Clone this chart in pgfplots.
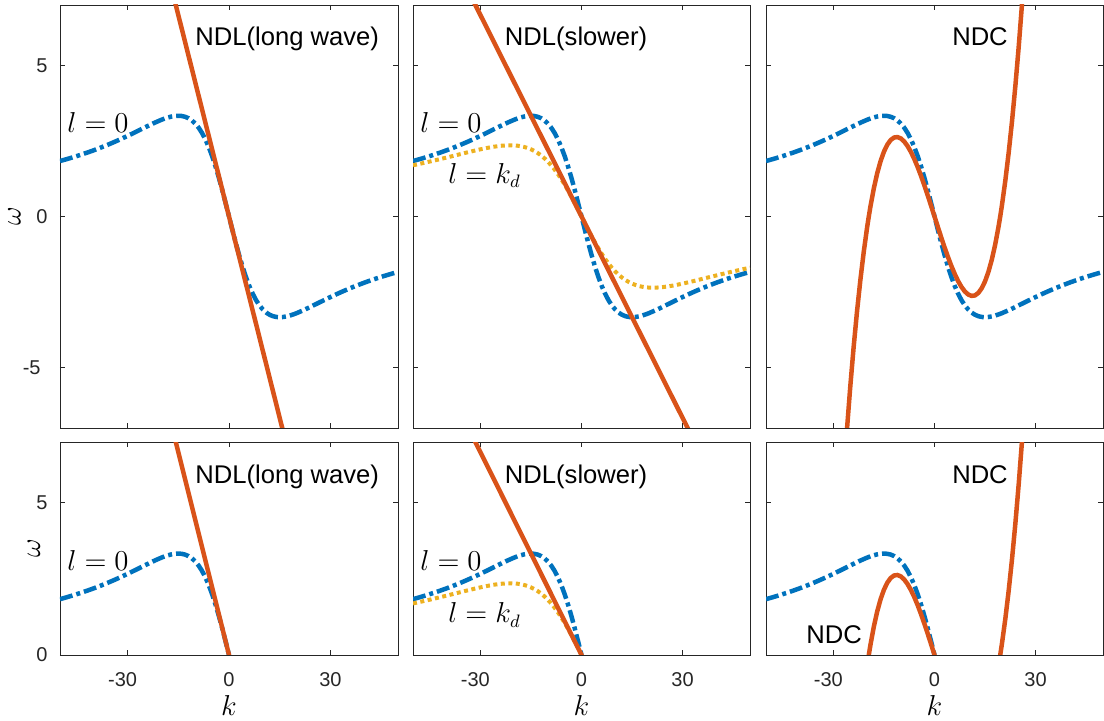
\documentclass[border=0pt]{standalone}
\usepackage[no-math]{fontspec}
\setmainfont{Liberation Sans}
\usepackage{pgfplots}
\usepackage{pgfplotstable}
\pgfplotsset{compat=1.18}

\definecolor{mblue}{rgb}{0,0.447,0.741}
\definecolor{mred}{rgb}{0.85,0.325,0.098}
\definecolor{myellow}{rgb}{0.929,0.694,0.125}

\pgfplotstableread{
k w
-50 1.8349
-48 1.8980
-46 1.9650
-44 2.0361
-42 2.1116
-40 2.1918
-38 2.2768
-36 2.3669
-34 2.4620
-32 2.5620
-30 2.6667
-28 2.7750
-26 2.8857
-24 2.9963
-22 3.1030
-20 3.2000
-19 3.2423
-18 3.2787
-17 3.3074
-16 3.3264
-15 3.3333
-14 3.3254
-13 3.2995
-12 3.2520
-11 3.1792
-10 3.0769
-9 2.9412
-8 2.7682
-7 2.5547
-6 2.2989
-5 2.0000
-4 1.6598
-3 1.2821
-2 0.8734
-1 0.4425
0 0
1 -0.4425
2 -0.8734
3 -1.2821
4 -1.6598
5 -2.0000
6 -2.2989
7 -2.5547
8 -2.7682
9 -2.9412
10 -3.0769
11 -3.1792
12 -3.2520
13 -3.2995
14 -3.3254
15 -3.3333
16 -3.3264
17 -3.3074
18 -3.2787
19 -3.2423
20 -3.2000
22 -3.1030
24 -2.9963
26 -2.8857
28 -2.7750
30 -2.6667
32 -2.5620
34 -2.4620
36 -2.3669
38 -2.2768
40 -2.1918
42 -2.1116
44 -2.0361
46 -1.9650
48 -1.8980
50 -1.8349
}\bluedata

\pgfplotstableread{
k w
-50 1.6949
-48 1.7429
-46 1.7927
-44 1.8441
-42 1.8970
-40 1.9512
-38 2.0063
-36 2.0619
-34 2.1171
-32 2.1710
-30 2.2222
-28 2.2690
-26 2.3091
-24 2.3392
-22 2.3555
-21 2.3569
-20 2.3529
-19 2.3428
-18 2.3256
-17 2.3004
-16 2.2663
-15 2.2222
-14 2.1672
-13 2.1002
-12 2.0202
-11 1.9264
-10 1.8182
-9 1.6949
-8 1.5564
-7 1.4028
-6 1.2346
-5 1.0526
-4 0.8584
-3 0.6536
-2 0.4405
-1 0.2217
0 0
1 -0.2217
2 -0.4405
3 -0.6536
4 -0.8584
5 -1.0526
6 -1.2346
7 -1.4028
8 -1.5564
9 -1.6949
10 -1.8182
11 -1.9264
12 -2.0202
13 -2.1002
14 -2.1672
15 -2.2222
16 -2.2663
17 -2.3004
18 -2.3256
19 -2.3428
20 -2.3529
21 -2.3569
22 -2.3555
24 -2.3392
26 -2.3091
28 -2.2690
30 -2.2222
32 -2.1710
34 -2.1171
36 -2.0619
38 -2.0063
40 -1.9512
42 -1.8970
44 -1.8441
46 -1.7927
48 -1.7429
50 -1.6949
}\yellowdata

\pgfplotstableread{
k w
-27 -8.6751
-26 -7.0841
-25 -5.6369
-24 -4.3278
-23 -3.1515
-22 -2.1023
-21 -1.1747
-20 -0.3632
-19.5 0
-19 0.3377
-18 0.9336
-17 1.4300
-16 1.8324
-15 2.1463
-14 2.3773
-13 2.5309
-12 2.6126
-11 2.6280
-10 2.5826
-9 2.4819
-8 2.3314
-7 2.1368
-6 1.9034
-5 1.6368
-4 1.3426
-3 1.0263
-2 0.6934
-1 0.3495
0 0
1 -0.3495
2 -0.6934
3 -1.0263
4 -1.3426
5 -1.6368
6 -1.9034
7 -2.1368
8 -2.3314
9 -2.4819
10 -2.5826
11 -2.6280
12 -2.6126
13 -2.5309
14 -2.3773
15 -2.1463
16 -1.8324
17 -1.4300
18 -0.9336
19 -0.3377
19.5 0
20 0.3632
21 1.1747
22 2.1023
23 3.1515
24 4.3278
25 5.6369
26 7.0841
27 8.6751
}\ndcdata

\tikzset{
  blueline/.style={mblue, line width=2.25pt, dash pattern=on 6.5pt off 2pt on 2pt off 2pt},
  yellowline/.style={myellow, line width=2pt, dash pattern=on 2pt off 1.75pt},
  redline/.style={mred, line width=2.25pt},
  ttl/.style={font=\fontsize{12.8}{15}\selectfont, anchor=base, inner sep=0pt},
  mlbl/.style={font=\fontsize{13.5}{16}\selectfont, anchor=base west, inner sep=0pt},
}

\pgfplotsset{
  panel/.style={
    scale only axis, anchor=south west,
    xmin=-50, xmax=50,
    xtick={-30,0,30},
    tick align=inside, tick pos=both,
    major tick length=2.5pt,
    axis line style={black!85, line width=0.4pt},
    every tick/.style={black!85, line width=0.4pt},
    tick label style={font=\fontsize{10}{12}\selectfont, text=black!85},
    xticklabel style={anchor=base, yshift=-16pt},
    yticklabel style={anchor=east, inner sep=0pt, xshift=-6pt},
    ylabel style={anchor=center, font=\fontsize{14}{16}\selectfont},
    xlabel style={anchor=base, font=\fontsize{14}{16}\selectfont},
  },
  toprow/.style={panel, height=211.5pt, ymin=-7, ymax=7, ytick={-5,0,5}, xticklabels={}},
  botrow/.style={panel, height=106.5pt, ymin=0, ymax=7, ytick={0,5},
    xticklabels={-30\kern5pt,0,30}, xlabel={$k$},
    xlabel style={at={([yshift=-30.5pt]rel axis cs:0.5,0)}}},
}

\begin{document}
\begin{tikzpicture}
% ---------- top row ----------
\begin{axis}[toprow, at={(30pt,146.5pt)}, width=169pt,
  yticklabels={-5\kern3.5pt,0,5}, ylabel={$\omega$},
  ylabel style={at={([xshift=-22.75pt]rel axis cs:0,0.5)}}]
\addplot[blueline] table {\bluedata};
\addplot[redline] coordinates {(-16,7.1111) (16,-7.1111)};
\node[ttl] at (axis cs:17.2,5.67) {NDL(long wave)};
\node[mlbl] at (axis cs:-47.9,2.77) {$l=0$};
\end{axis}

\begin{axis}[toprow, at={(206.5pt,146.5pt)}, width=168.5pt, yticklabels={}]
\addplot[blueline] table {\bluedata};
\addplot[yellowline] table {\yellowdata};
\addplot[redline] coordinates {(-32,7.1111) (32,-7.1111)};
\node[ttl] at (axis cs:-1.6,5.67) {NDL(slower)};
\node[mlbl] at (axis cs:-47.9,2.78) {$l=0$};
\node[mlbl] at (axis cs:-39.6,1.10) {$l=k_d$};
\end{axis}

\begin{axis}[toprow, at={(383pt,146.5pt)}, width=168.5pt, yticklabels={}]
\addplot[blueline] table {\bluedata};
\addplot[redline] table {\ndcdata};
\node[ttl] at (axis cs:13.5,5.67) {NDC};
\end{axis}

% ---------- bottom row ----------
\begin{axis}[botrow, at={(30pt,33pt)}, width=169pt,
  yticklabels={0,5}, ylabel={$\omega$},
  ylabel style={at={([xshift=-13pt]rel axis cs:0,0.5)}}]
\addplot[blueline] table {\bluedata};
\addplot[redline] coordinates {(-16,7.1111) (16,-7.1111)};
\node[ttl] at (axis cs:17.2,5.65) {NDL(long wave)};
\node[mlbl] at (axis cs:-47.9,2.79) {$l=0$};
\end{axis}

\begin{axis}[botrow, at={(206.5pt,33pt)}, width=168.5pt, yticklabels={}]
\addplot[blueline] table {\bluedata};
\addplot[yellowline] table {\yellowdata};
\addplot[redline] coordinates {(-32,7.1111) (32,-7.1111)};
\node[ttl] at (axis cs:-1.6,5.65) {NDL(slower)};
\node[mlbl] at (axis cs:-47.9,2.79) {$l=0$};
\node[mlbl] at (axis cs:-39.6,1.06) {$l=k_d$};
\end{axis}

\begin{axis}[botrow, at={(383pt,33pt)}, width=168.5pt, yticklabels={}]
\addplot[blueline] table {\bluedata};
\addplot[redline] table {\ndcdata};
\node[ttl] at (axis cs:13.5,5.65) {NDC};
\node[ttl] at (axis cs:-29.8,0.39) {NDC};
\end{axis}

\pgfresetboundingbox
\useasboundingbox (0,0) rectangle (552pt,360.5pt);
\end{tikzpicture}
\end{document}
